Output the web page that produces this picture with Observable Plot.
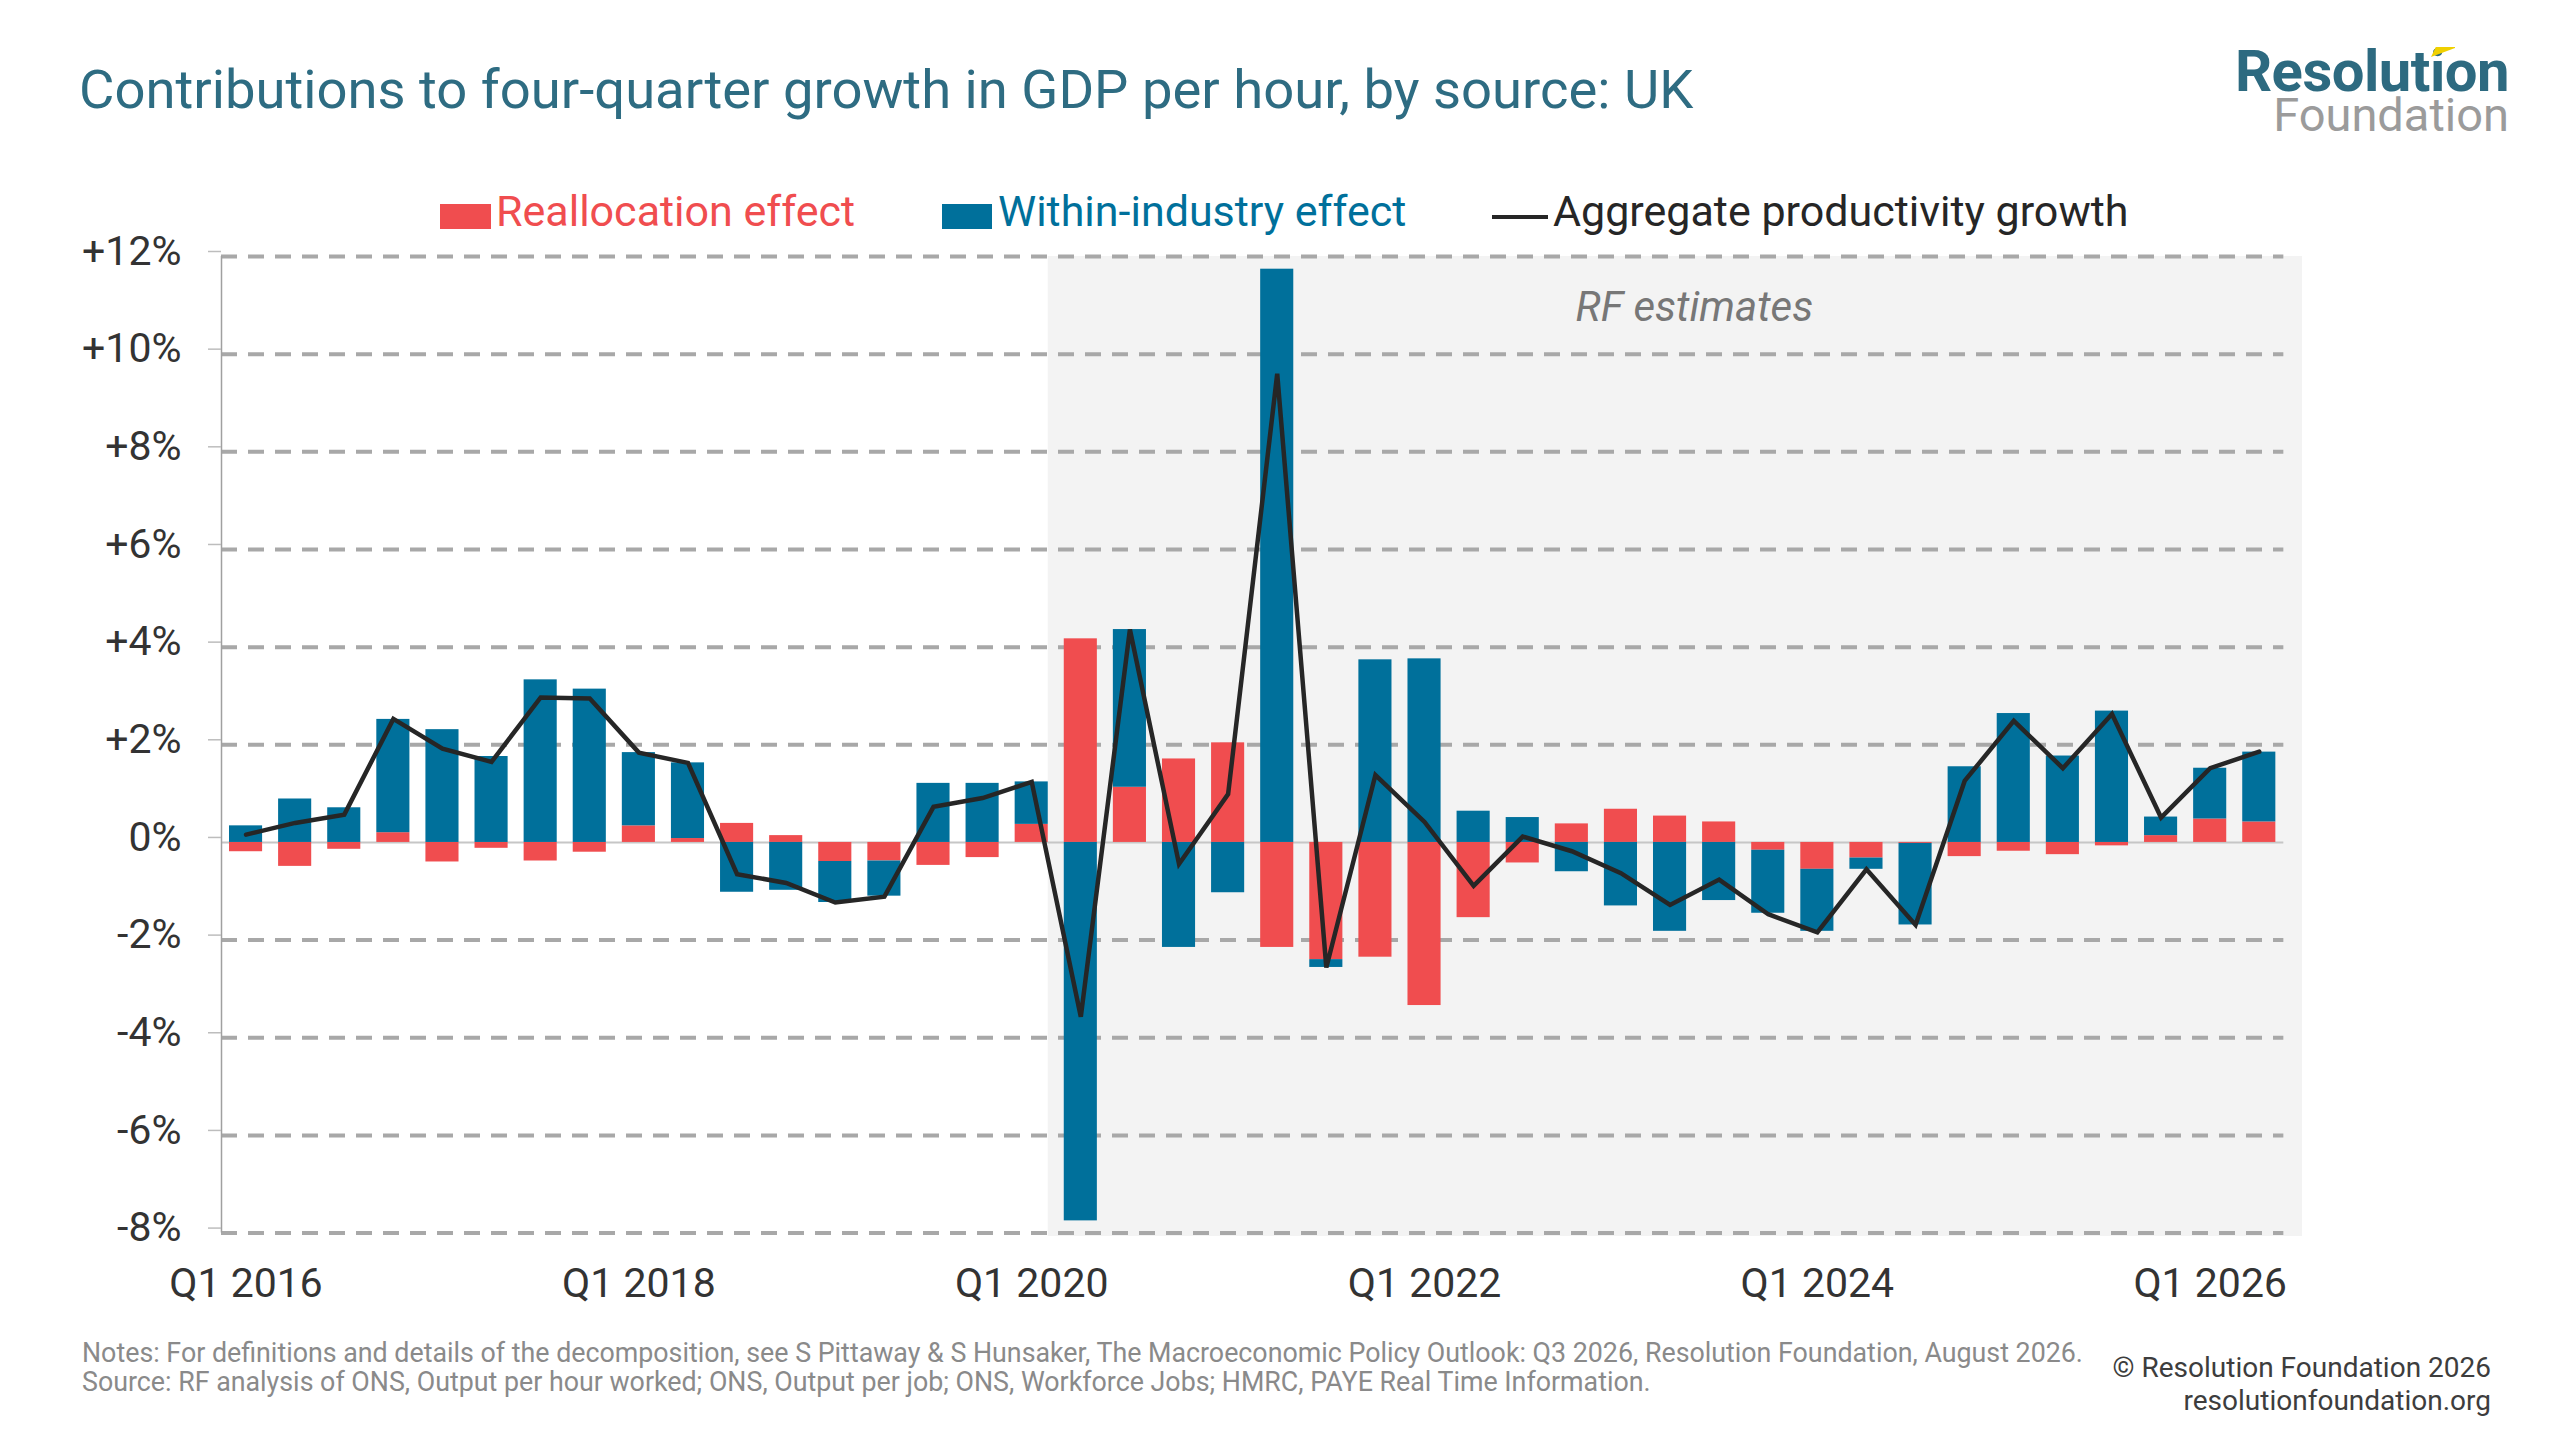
<!DOCTYPE html>
<html>
<head>
<meta charset="utf-8">
<script src="https://cdn.jsdelivr.net/npm/d3@7"></script>
<script src="https://cdn.jsdelivr.net/npm/@observablehq/plot@0.6"></script>
<style>
  html, body { margin: 0; padding: 0; background: #ffffff; }
  #root { position: relative; width: 2560px; height: 1440px; overflow: hidden; font-family: Roboto, "Noto Sans", sans-serif; background: #ffffff; }
  .abs { position: absolute; white-space: nowrap; line-height: 1; }
  #chart { position: absolute; left: 0; top: 0; }
  #logo { position: absolute; right: 51px; top: 49px; white-space: pre; text-align: right; font-size: 47px; line-height: 44px; color: #9b9b9b; }
  #logo::first-line { font-size: 58px; font-weight: 700; color: #2d6a80; letter-spacing: -0.5px; }
</style>
</head>
<body>
<div id="root">
  <div id="chart"></div>
  <div class="abs" id="title" style="left:79px; top:63px; font-size:54.4px; color:#2e6c82;">Contributions to four-quarter growth in GDP per hour, by source: UK</div>
  <div id="logo">Resolution
Foundation</div>
  <div class="abs" style="left:2431px; top:47px; width:24px; height:10px; background:#f0d000; clip-path:polygon(20% 0,100% 0,100% 10%,0 100%);"></div>

  <div class="abs" style="left:440px; top:204px; width:51px; height:25px; background:#f04d4f;"></div>
  <div class="abs" style="left:496px; top:190px; font-size:43px; color:#f04d4f;">Reallocation effect</div>
  <div class="abs" style="left:942px; top:204px; width:50px; height:25px; background:#00709b;"></div>
  <div class="abs" style="left:998px; top:190px; font-size:43px; color:#00709b;">Within-industry effect</div>
  <div class="abs" style="left:1492px; top:215px; width:56px; height:4px; background:#262626;"></div>
  <div class="abs" style="left:1553px; top:190px; font-size:43px; color:#262626;">Aggregate productivity growth</div>

  <div class="abs" style="left:82px; top:1339px; font-size:26.8px; line-height:29px; color:#8a8a8a;">Notes: For definitions and details of the decomposition, see S Pittaway &amp; S Hunsaker, The Macroeconomic Policy Outlook: Q3 2026, Resolution Foundation, August 2026.<br>Source: RF analysis of ONS, Output per hour worked; ONS, Output per job; ONS, Workforce Jobs; HMRC, PAYE Real Time Information.</div>
  <div class="abs" style="right:69px; top:1351px; font-size:28px; line-height:33px; color:#3d3d3d; text-align:right;">© Resolution Foundation 2026<br>resolutionfoundation.org</div>
</div>
<script>
// ---- Data ----
const quarters = [
  "Q1 2016","Q2 2016","Q3 2016","Q4 2016",
  "Q1 2017","Q2 2017","Q3 2017","Q4 2017",
  "Q1 2018","Q2 2018","Q3 2018","Q4 2018",
  "Q1 2019","Q2 2019","Q3 2019","Q4 2019",
  "Q1 2020","Q2 2020","Q3 2020","Q4 2020",
  "Q1 2021","Q2 2021","Q3 2021","Q4 2021",
  "Q1 2022","Q2 2022","Q3 2022","Q4 2022",
  "Q1 2023","Q2 2023","Q3 2023","Q4 2023",
  "Q1 2024","Q2 2024","Q3 2024","Q4 2024",
  "Q1 2025","Q2 2025","Q3 2025","Q4 2025",
  "Q1 2026","Q2 2026"
];
const reallocation = [
  -0.19,-0.49,-0.14, 0.20,-0.40,-0.12,-0.38,-0.20, 0.34, 0.08,
   0.39, 0.14,-0.39,-0.38,-0.47,-0.31, 0.37, 4.17, 1.13, 1.71,
   2.04,-2.15,-2.40,-2.35,-3.34,-1.54,-0.42, 0.38, 0.68, 0.54,
   0.42,-0.16,-0.55,-0.32,-0.02,-0.29,-0.18,-0.25,-0.07, 0.14,
   0.48, 0.42
];
const withinIndustry = [
   0.34, 0.89, 0.71, 2.32, 2.31, 1.76, 3.33, 3.14, 1.50, 1.55,
  -1.02,-0.98,-0.84,-0.72, 1.21, 1.21, 0.87,-7.75, 3.23,-2.15,
  -1.03,11.74,-0.16, 3.74, 3.76, 0.64, 0.51,-0.60,-1.30,-1.82,
  -1.19,-1.29,-1.27,-0.23,-1.67, 1.55, 2.64, 1.77, 2.69, 0.38,
   1.04, 1.43
];
const aggregate = [
   0.16, 0.40, 0.57, 2.53, 1.92, 1.65, 2.97, 2.95, 1.84, 1.63,
  -0.65,-0.83,-1.23,-1.11, 0.73, 0.91, 1.24,-3.57, 4.36,-0.44,
   0.99, 9.60,-2.56, 1.38, 0.42,-0.89, 0.12,-0.18,-0.63,-1.28,
  -0.76,-1.47,-1.84,-0.55,-1.69, 1.26, 2.49, 1.52, 2.63, 0.51,
   1.52, 1.86
];
const seriesNames = ["Reallocation effect", "Within-industry effect"];
const seriesColors = ["#f04d4f", "#00709b"];
const xTickLabels = ["Q1 2016","Q1 2018","Q1 2020","Q1 2022","Q1 2024","Q1 2026"];
const yTicks = [-8,-6,-4,-2,0,2,4,6,8,10,12];
const firstEstimate = "Q2 2020";
const estimateLabel = "RF estimates";

// ---- Tables built from the arrays ----
const bars = [];
quarters.forEach((q, i) => {
  bars.push({i, q, series: seriesNames[0], value: reallocation[i]});
  bars.push({i, q, series: seriesNames[1], value: withinIndustry[i]});
});
const line = quarters.map((q, i) => ({i, q, value: aggregate[i]}));

const n = quarters.length;
const xMax = n + 0.38;          // plot extends a little past the last quarter
const yMin = -8.07, yMax = 12;
const barInset = 8;
const shadeStart = quarters.indexOf(firstEstimate);

const chart = Plot.plot({
  width: 2560,
  height: 1440,
  marginLeft: 221,
  marginRight: 258,
  marginTop: 256,
  marginBottom: 204,
  style: {fontFamily: "Roboto, 'Noto Sans', sans-serif", fontSize: "41px", background: "transparent", color: "#333333", overflow: "visible"},
  x: {domain: [0, xMax]},
  y: {domain: [yMin, yMax]},
  color: {domain: seriesNames, range: seriesColors},
  marks: [
    Plot.rect([{}], {x1: () => shadeStart, x2: () => xMax, y1: () => yMin, y2: () => yMax, fill: "#f3f3f3", insetLeft: -barInset}),
    Plot.ruleY(yTicks.filter(d => d !== 0), {x1: 0, x2: n, stroke: "#a8a8a8", strokeWidth: 4, strokeDasharray: "16,11"}),
    Plot.ruleY([0], {x1: 0, x2: n, stroke: "#c6c6c6", strokeWidth: 2}),
    Plot.rectY(bars, {x1: d => d.i, x2: d => d.i + 1, y: "value", fill: "series", insetLeft: barInset, insetRight: barInset}),
    Plot.ruleX([0], {y1: yTicks[0], y2: yTicks[yTicks.length - 1], stroke: "#a0a0a0", strokeWidth: 1.5}),
    Plot.line(line, {x: d => d.i + 0.5, y: "value", stroke: "#262626", strokeWidth: 4.5, strokeLinejoin: "miter", strokeMiterlimit: 6}),
    Plot.text([estimateLabel], {x: () => (shadeStart + xMax) / 2, frameAnchor: "top", dy: 35, dx: 15, text: d => d, fill: "#777777", fontStyle: "italic", fontSize: 42}),
    Plot.axisY(yTicks, {label: null, tickFormat: d => d > 0 ? `+${d}%` : `${d}%`, tickSize: 13, tickPadding: 27, stroke: "#bdbdbd", strokeWidth: 1.5, fill: "#333333", fontSize: 41, dy: -5}),
    Plot.axisX(xTickLabels.map(q => quarters.indexOf(q) + 0.5), {label: null, tickFormat: v => quarters[Math.floor(v)], tickSize: 0, tickPadding: 31, fill: "#333333", fontSize: 41})
  ]
});
document.getElementById("chart").appendChild(chart);
</script>
</body>
</html>
